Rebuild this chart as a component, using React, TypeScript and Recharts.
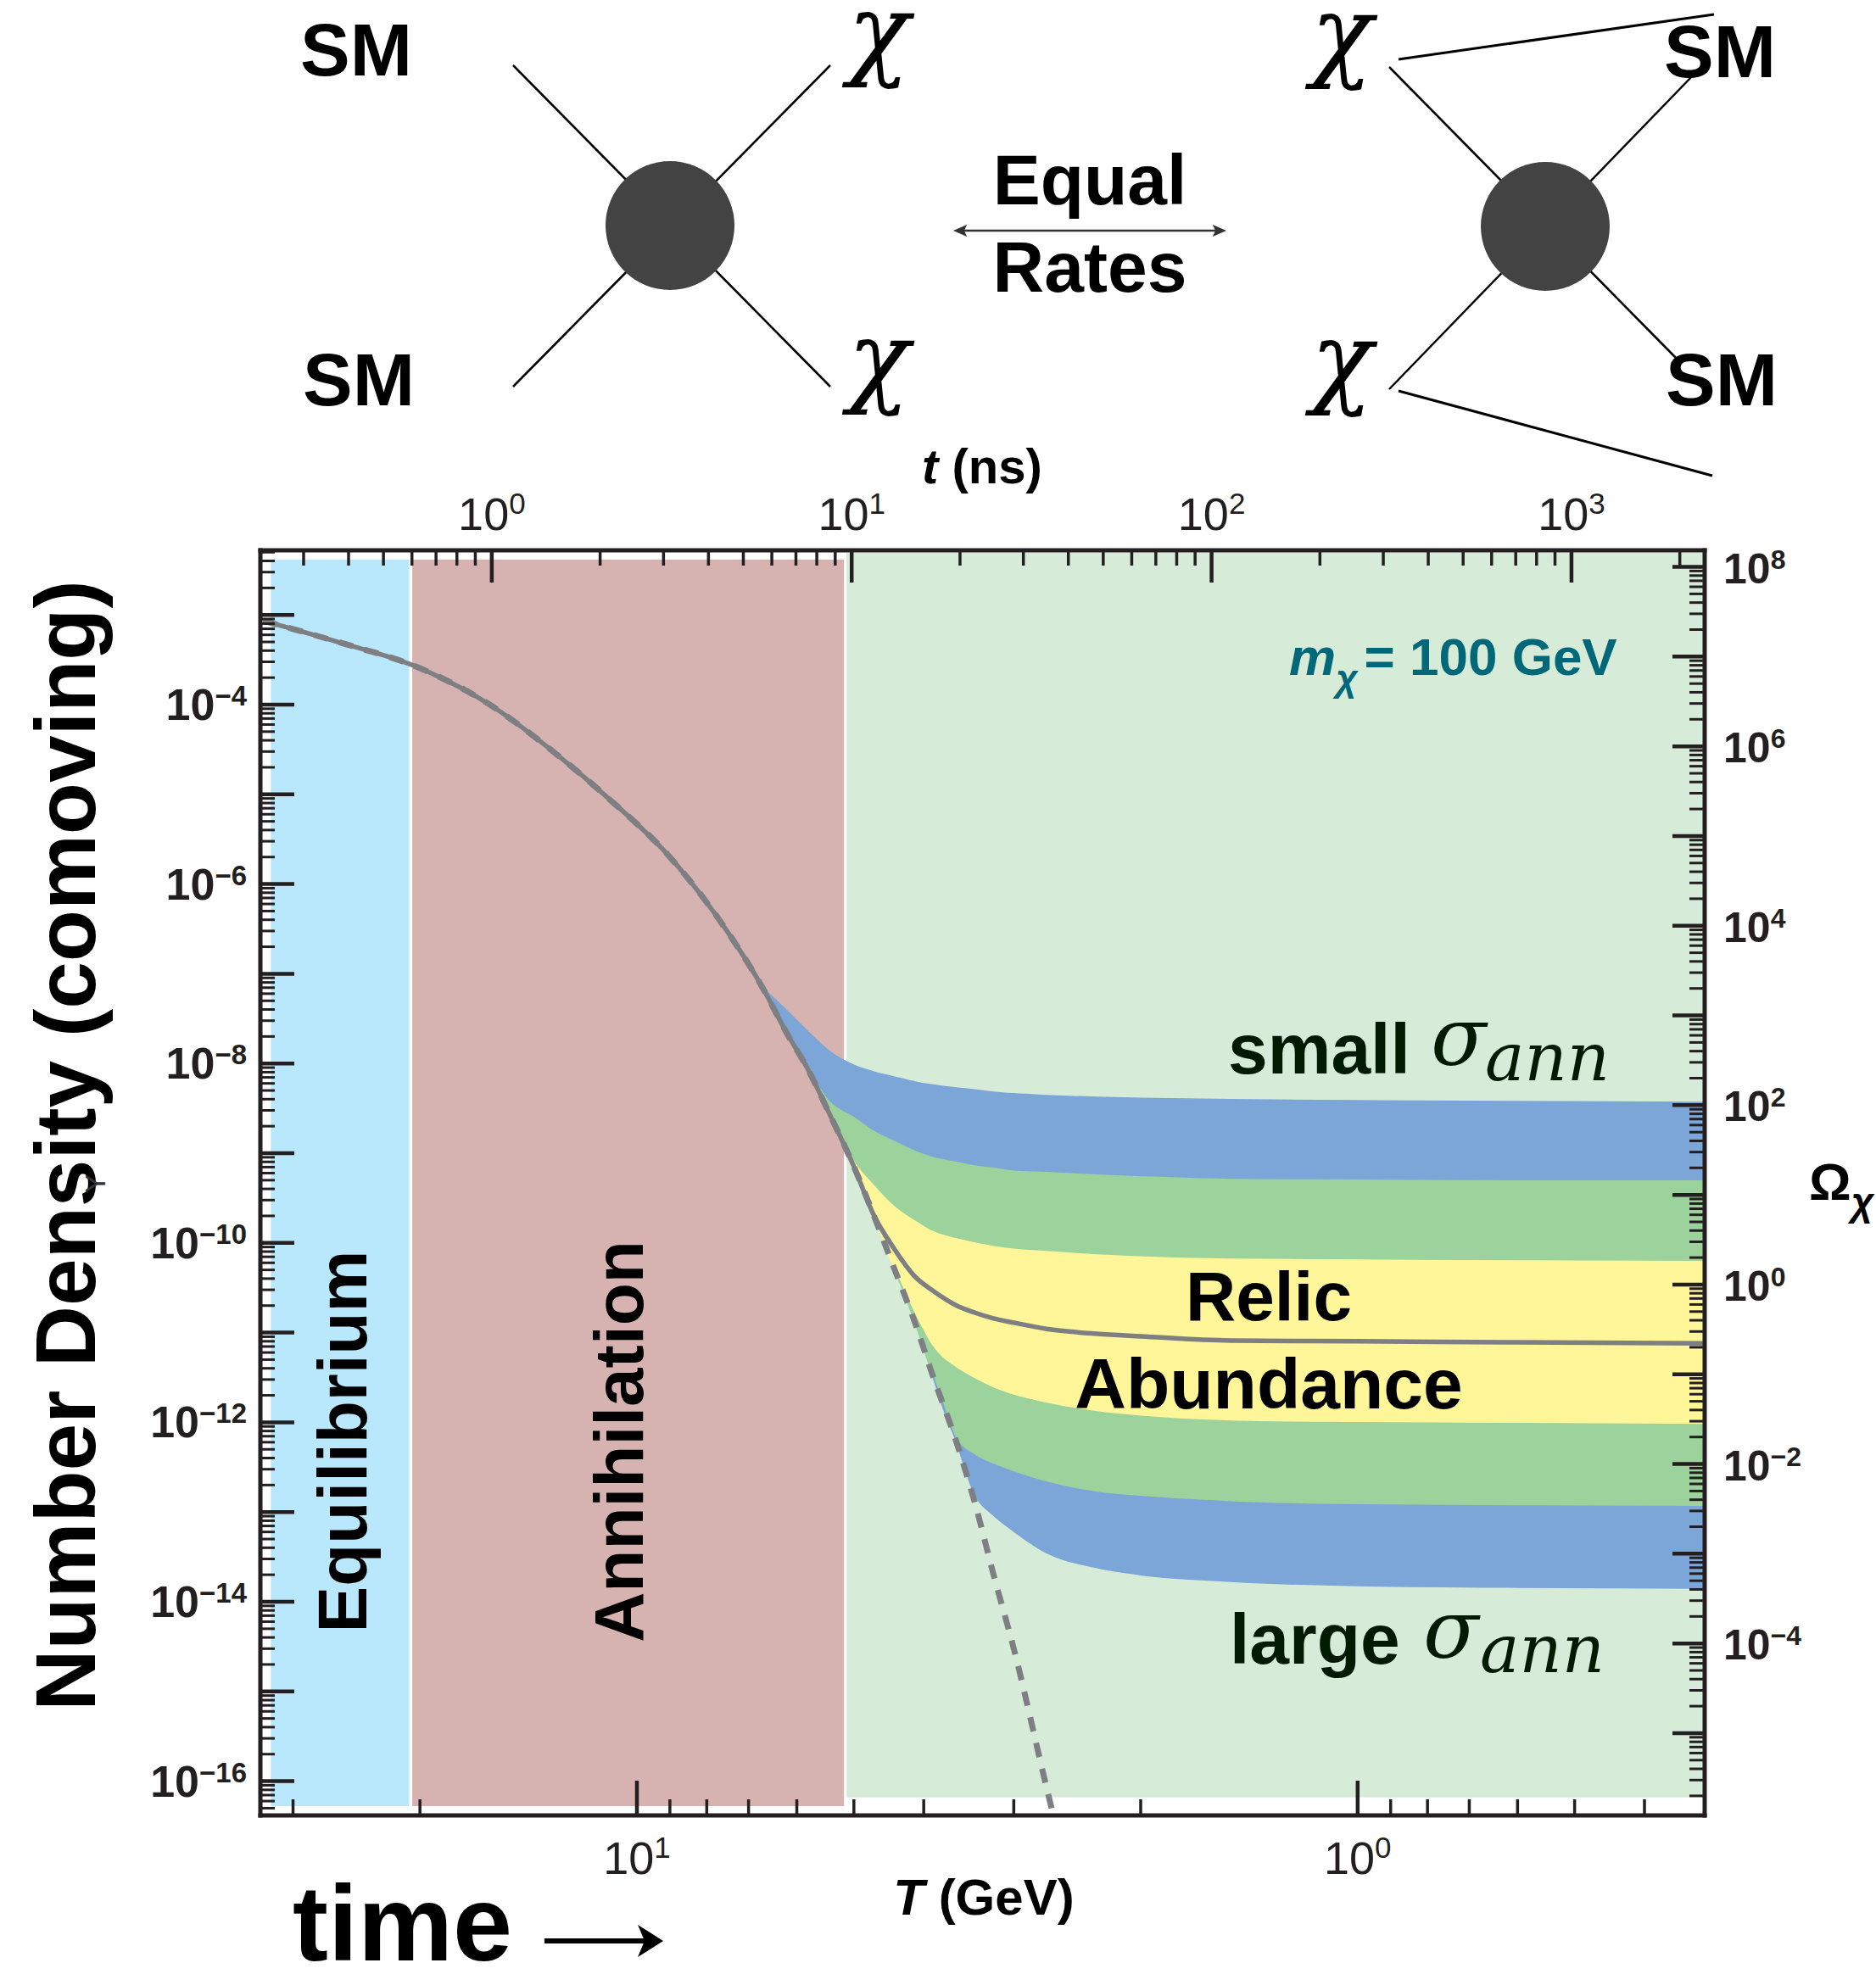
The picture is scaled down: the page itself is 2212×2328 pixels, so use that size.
import React from 'react';
import { ComposedChart, Area, Line, XAxis, YAxis, ReferenceArea } from 'recharts';

const W = 2212;
const H = 2328;

// temperature grid in GeV, hot (left) to cold (right)
const T_GEV = [33, 26, 20, 16, 13, 11, 9, 7.5, 6.7, 6.2, 5.8, 5.4, 5.0, 4.7, 4.4, 4.1, 3.9, 3.6, 3.4, 3.2, 3.0, 2.7, 2.3, 2.0, 1.5, 1.0, 0.6, 0.33];

// equilibrium comoving density (dashed curve)
const Y_EQ = [
  8.6e-4, 5.0e-4, 2.55e-4, 1.0e-4, 2.9e-5, 9.3e-6, 2.0e-6, 3.0e-7, 7.1e-8, 2.2e-8,
  8.8e-9, 2.7e-9, 7.1e-10, 2.1e-10, 5.3e-11, 1.2e-11, 3.6e-12, 5.9e-13, 1.3e-13, 2.0e-14,
  3.0e-15, 8.3e-17, 5e-19, null, null, null, null, null,
];

// band edges, top to bottom; each one sits on equilibrium until it freezes out
const Y_BLUE_HI = [...Y_EQ.slice(0, 9), 3.9e-8, 2.3e-8, 1.36e-8, 9.6e-9, 8.1e-9, 7.1e-9, 6.2e-9, 5.8e-9, 5.35e-9, 5.1e-9, 4.8e-9, 4.6e-9, 4.4e-9, 4.2e-9, 4.1e-9, 3.95e-9, 3.85e-9, 3.77e-9, 3.7e-9];
const Y_GREEN_HI = [...Y_EQ.slice(0, 11), 3.7e-9, 2.5e-9, 1.76e-9, 1.36e-9, 1.04e-9, 9.0e-10, 7.9e-10, 7.2e-10, 6.8e-10, 6.3e-10, 6.1e-10, 5.7e-10, 5.45e-10, 5.1e-10, 5.0e-10, 4.9e-10, 4.9e-10];
const Y_YELLOW_HI = [...Y_EQ.slice(0, 12), 8.0e-10, 4.4e-10, 2.55e-10, 1.72e-10, 1.35e-10, 1.11e-10, 1.0e-10, 9.1e-11, 8.5e-11, 8.0e-11, 7.35e-11, 7.0e-11, 6.6e-11, 6.45e-11, 6.3e-11, 6.2e-11];
const Y_RELIC = [...Y_EQ.slice(0, 14), 8.7e-11, 4.1e-11, 3.0e-11, 2.0e-11, 1.67e-11, 1.44e-11, 1.29e-11, 1.1e-11, 9.7e-12, 9.1e-12, 8.15e-12, 8.0e-12, 7.8e-12, 7.6e-12];
const Y_YELLOW_LO = [...Y_EQ.slice(0, 15), 1.5e-11, 7.2e-12, 4.0e-12, 3.06e-12, 2.4e-12, 2.0e-12, 1.63e-12, 1.31e-12, 1.17e-12, 1.03e-12, 9.9e-13, 9.7e-13, 9.45e-13];
const Y_GREEN_LO = [...Y_EQ.slice(0, 17), 6.4e-13, 4.3e-13, 3.4e-13, 2.8e-13, 2.15e-13, 1.66e-13, 1.49e-13, 1.3e-13, 1.2e-13, 1.17e-13, 1.15e-13];
const Y_BLUE_LO = [...Y_EQ.slice(0, 18), 1.58e-13, 9.2e-14, 6.1e-14, 3.5e-14, 2.4e-14, 2.0e-14, 1.69e-14, 1.51e-14, 1.45e-14, 1.42e-14];

// phase backgrounds: T edges (GeV) and density extent
const PHASE_NAMES = ['Equilibrium', 'Annihilation', 'Freeze-out'];
const PHASE_T = [[32.2, 20.7], [20.5, 5.16], [5.12, 0.33]];
const PHASE_Y = [[5.27e-17, 4.13e-3], [5.27e-17, 4.13e-3], [6.6e-17, 4.92e-3]];

// axis ranges
const T_DOMAIN = [0.33, 33.3];
const Y_DOMAIN = [4.15e-17, 5.25e-3];
const TIME_DOMAIN = [0.2275, 2345];
const OMEGA_DOMAIN = [1.21e-6, 1.53e8];

// labelled decades
const Y_LABELED = [-4, -6, -8, -10, -12, -14, -16];
const OMEGA_LABELED = [8, 6, 4, 2, 0, -2, -4];
const TIME_LABELED = [0, 1, 2, 3];
const T_LABELED = [1, 0];

const INK = '#231f20';
const SANS = '"Liberation Sans", Arial, Helvetica, sans-serif';
const MATH = '"DejaVu Serif", "Liberation Serif", serif';
const PHASE_FILL = ['#b9e7fb', '#d6b3b0', '#d7ecd8'];
const BLUE = '#7ca6d8';
const GREEN = '#9cd29c';
const YELLOW = '#fff69a';
const CURVE = '#7e7f83';
const TEAL = '#006878';
const DARK = '#021a02';

function logTicks([lo, hi]: number[]) {
  const out: number[] = [];
  for (let e = Math.floor(Math.log10(lo)); e <= Math.ceil(Math.log10(hi)); e++) {
    for (let k = 1; k < 10; k++) {
      const v = k * Math.pow(10, e);
      if (v >= lo && v <= hi) out.push(v);
    }
  }
  return out;
}

const band = (lo: (number | null)[], hi: (number | null)[], i: number) => {
  const flat = (j: number) => lo[j] === hi[j];
  if (flat(i) && (i + 1 >= lo.length || flat(i + 1))) return null;
  return [lo[i], hi[i]];
};

const rows = T_GEV.map((T, i) => ({
  T,
  eq: Y_EQ[i],
  relic: Y_RELIC[i],
  blueTop: band(Y_GREEN_HI, Y_BLUE_HI, i),
  greenTop: band(Y_YELLOW_HI, Y_GREEN_HI, i),
  yellow: band(Y_YELLOW_LO, Y_YELLOW_HI, i),
  greenBot: band(Y_GREEN_LO, Y_YELLOW_LO, i),
  blueBot: band(Y_BLUE_LO, Y_GREEN_LO, i),
}));

const decade = (v: number) => {
  const l = Math.log10(v);
  return Math.abs(l - Math.round(l)) < 1e-9;
};
const expo = (v: number) => Math.round(Math.log10(v));
const sup = (e: number) => (e < 0 ? '\u2212' + Math.abs(e) : String(e));

function LeftTick({ x, y, payload }: any) {
  const v = payload.value;
  const major = decade(v);
  const e = expo(v);
  return (
    <g>
      <line x1={x} x2={x + (major ? 40 : 17)} y1={y} y2={y} stroke={INK} strokeWidth={major ? 4.5 : 3} />
      {major && Y_LABELED.includes(e) && (
        <text x={x - 16} y={y + 18} textAnchor="end" fill={INK} fontFamily={SANS} fontWeight={700} fontSize={52}>
          10<tspan dy={-17} fontSize={33}>{sup(e)}</tspan>
        </text>
      )}
    </g>
  );
}

function RightTick({ x, y, payload }: any) {
  const v = payload.value;
  const major = decade(v);
  const e = expo(v);
  return (
    <g>
      <line x1={x} x2={x - (major ? 38 : 18)} y1={y} y2={y} stroke={INK} strokeWidth={major ? 4.5 : 3} />
      {major && OMEGA_LABELED.includes(e) && (
        <text x={x + 22} y={y + 19} textAnchor="start" fill={INK} fontFamily={SANS} fontWeight={700} fontSize={50}>
          10<tspan dy={-17} fontSize={32}>{sup(e)}</tspan>
        </text>
      )}
    </g>
  );
}

function TopTick({ x, y, payload }: any) {
  const v = payload.value;
  const major = decade(v);
  const e = expo(v);
  return (
    <g>
      <line x1={x} x2={x} y1={y} y2={y + (major ? 38 : 18)} stroke={INK} strokeWidth={major ? 4.5 : 3.5} />
      {major && TIME_LABELED.includes(e) && (
        <text x={x} y={y - 24} textAnchor="middle" fill={INK} fontFamily={SANS} fontSize={54}>
          10<tspan dy={-19} fontSize={35}>{sup(e)}</tspan>
        </text>
      )}
    </g>
  );
}

function BottomTick({ x, y, payload }: any) {
  const v = payload.value;
  const major = decade(v);
  const e = expo(v);
  return (
    <g>
      <line x1={x} x2={x} y1={y} y2={y - (major ? 41 : 19)} stroke={INK} strokeWidth={major ? 4.5 : 3.5} />
      {major && T_LABELED.includes(e) && (
        <text x={x} y={y + 69} textAnchor="middle" fill={INK} fontFamily={SANS} fontSize={54}>
          10<tspan dy={-19} fontSize={35}>{sup(e)}</tspan>
        </text>
      )}
    </g>
  );
}

const AXIS_LINE = { stroke: INK, strokeWidth: 5, strokeLinecap: 'square' as const };

function Overlay() {
  const bold = { fontFamily: SANS, fontWeight: 700 };
  const chi = { fontFamily: MATH, fontStyle: 'italic' as const, fontSize: 120, textAnchor: 'middle' as const };
  return (
    <svg width={W} height={H} style={{ position: 'absolute', left: 0, top: 0, pointerEvents: 'none' }}>
      {/* production vertex */}
      <line x1={605} y1={77} x2={979} y2={456} stroke="#000" strokeWidth={2.5} />
      <line x1={979} y1={77} x2={605} y2={456} stroke="#000" strokeWidth={2.5} />
      <circle cx={790} cy={266} r={76} fill="#434343" />
      <text x={420} y={89} textAnchor="middle" fontSize={88} {...bold}>SM</text>
      <text x={423} y={478} textAnchor="middle" fontSize={88} {...bold}>SM</text>
      <text x={1036} y={78} {...chi}>χ</text>
      <text x={1036} y={464} {...chi}>χ</text>

      <text x={1285} y={241} textAnchor="middle" fontSize={84} {...bold}>Equal</text>
      <text x={1285} y={344} textAnchor="middle" fontSize={84} {...bold}>Rates</text>
      <line x1={1132} y1={272} x2={1438} y2={272} stroke="#333" strokeWidth={2.5} />
      <polygon points="1124,272 1140,265 1137,272 1140,279" fill="#333" />
      <polygon points="1446,272 1430,265 1433,272 1430,279" fill="#333" />

      {/* annihilation vertex */}
      <line x1={1638} y1={79} x2={1976} y2={422} stroke="#000" strokeWidth={2.5} />
      <line x1={1638} y1={459} x2={1997} y2={88} stroke="#000" strokeWidth={2.5} />
      <circle cx={1822} cy={267} r={76} fill="#434343" />
      <text x={1582} y={80} {...chi}>χ</text>
      <text x={1582} y={465} {...chi}>χ</text>
      <text x={2028} y={91} textAnchor="middle" fontSize={88} {...bold}>SM</text>
      <text x={2030} y={478} textAnchor="middle" fontSize={88} {...bold}>SM</text>
      <line x1={1649} y1={70} x2={2021} y2={17} stroke="#000" strokeWidth={3} />
      <line x1={1649} y1={461} x2={2019} y2={561} stroke="#000" strokeWidth={3} />

      {/* axis titles */}
      <text x={1158} y={570} textAnchor="middle" fontSize={58} {...bold}>
        <tspan fontStyle="italic">t</tspan> (ns)
      </text>
      <text x={1160} y={2258} textAnchor="middle" fontSize={60} {...bold}>
        <tspan fontStyle="italic">T</tspan> (GeV)
      </text>
      <text x={2133} y={1415} fontSize={62} {...bold}>
        Ω<tspan fontStyle="italic" fontSize={46} dy={18}>χ</tspan>
      </text>
      <text x={112} y={1351} transform="rotate(-90 112 1351)" textAnchor="middle" fontSize={100} {...bold}>
        Number Density (comoving)
      </text>
      <text x={124} y={1396} transform="rotate(-90 124 1396)" textAnchor="middle" fontSize={34} fill="#333" fontFamily={SANS}>Y</text>
      <text x={345} y={2312} fontSize={126} {...bold}>time</text>
      <line x1={642} y1={2289} x2={760} y2={2289} stroke="#000" strokeWidth={6} />
      <polygon points="752,2270 782,2289 752,2308 760,2289" fill="#000" />

      {/* plot annotations */}
      <text x={432} y={1700} transform="rotate(-90 432 1700)" textAnchor="middle" fontSize={82} {...bold}>Equilibrium</text>
      <text x={758} y={1700} transform="rotate(-90 758 1700)" textAnchor="middle" fontSize={82} {...bold}>Annihilation</text>
      <text x={1520} y={796} fontSize={62} fill={TEAL} {...bold}>
        <tspan fontStyle="italic">m</tspan>
        <tspan fontStyle="italic" fontSize={44} dy={19}>χ</tspan>
        <tspan dy={-19} dx={8}>= 100 GeV</tspan>
      </text>
      <text x={1448} y={1266} fontSize={84} fill={DARK} {...bold}>small</text>
      <text x={1687} y={1256} fontSize={96} fill={DARK} fontFamily={MATH} fontStyle="italic">σ</text>
      <text x={1751} y={1274} fontSize={78} fill={DARK} fontFamily={MATH} fontStyle="italic">ann</text>
      <text x={1496} y={1557} textAnchor="middle" fontSize={82} {...bold}>Relic</text>
      <text x={1496} y={1661} textAnchor="middle" fontSize={84} {...bold}>Abundance</text>
      <text x={1450} y={1962} fontSize={84} fill={DARK} {...bold}>large</text>
      <text x={1678} y={1955} fontSize={96} fill={DARK} fontFamily={MATH} fontStyle="italic">σ</text>
      <text x={1745} y={1972} fontSize={78} fill={DARK} fontFamily={MATH} fontStyle="italic">ann</text>
    </svg>
  );
}

export default function App() {
  return (
    <div style={{ position: 'absolute', left: 0, top: 0, width: W, height: H, background: '#fff', overflow: 'hidden' }}>
      <ComposedChart width={W} height={H} data={rows} margin={{ top: 549, right: 102, bottom: 87, left: 7 }}>
        <XAxis
          xAxisId="T" dataKey="T" type="number" scale="log" domain={T_DOMAIN} reversed allowDataOverflow
          ticks={logTicks(T_DOMAIN)} interval={0} tickSize={0} tickMargin={0} tickLine={false}
          tick={BottomTick} axisLine={AXIS_LINE} height={100} orientation="bottom"
        />
        <XAxis
          xAxisId="t" dataKey="T" type="number" scale="log" domain={TIME_DOMAIN} allowDataOverflow
          ticks={logTicks(TIME_DOMAIN)} interval={0} tickSize={0} tickMargin={0} tickLine={false}
          tick={TopTick} axisLine={AXIS_LINE} height={100} orientation="top"
        />
        <YAxis
          yAxisId="Y" type="number" scale="log" domain={Y_DOMAIN} allowDataOverflow
          ticks={logTicks(Y_DOMAIN)} interval={0} tickSize={0} tickMargin={0} tickLine={false}
          tick={LeftTick} axisLine={AXIS_LINE} width={300} orientation="left"
        />
        <YAxis
          yAxisId="O" type="number" scale="log" domain={OMEGA_DOMAIN} allowDataOverflow
          ticks={logTicks(OMEGA_DOMAIN)} interval={0} tickSize={0} tickMargin={0} tickLine={false}
          tick={RightTick} axisLine={AXIS_LINE} width={100} orientation="right"
        />

        {PHASE_NAMES.map((name, i) => (
          <ReferenceArea
            key={name} xAxisId="T" yAxisId="Y" zIndex={50}
            x1={PHASE_T[i][0]} x2={PHASE_T[i][1]} y1={PHASE_Y[i][0]} y2={PHASE_Y[i][1]}
            fill={PHASE_FILL[i]} fillOpacity={1} stroke="none" ifOverflow="hidden"
          />
        ))}

        <Area xAxisId="T" yAxisId="Y" dataKey="blueTop" type="monotone" fill={BLUE} fillOpacity={1} stroke={BLUE} strokeWidth={1.5} isAnimationActive={false} />
        <Area xAxisId="T" yAxisId="Y" dataKey="greenTop" type="monotone" fill={GREEN} fillOpacity={1} stroke={GREEN} strokeWidth={1.5} isAnimationActive={false} />
        <Area xAxisId="T" yAxisId="Y" dataKey="yellow" type="monotone" fill={YELLOW} fillOpacity={1} stroke={YELLOW} strokeWidth={1.5} isAnimationActive={false} />
        <Area xAxisId="T" yAxisId="Y" dataKey="greenBot" type="monotone" fill={GREEN} fillOpacity={1} stroke={GREEN} strokeWidth={1.5} isAnimationActive={false} />
        <Area xAxisId="T" yAxisId="Y" dataKey="blueBot" type="monotone" fill={BLUE} fillOpacity={1} stroke={BLUE} strokeWidth={1.5} isAnimationActive={false} />

        <Line xAxisId="T" yAxisId="Y" dataKey="eq" type="monotone" stroke={CURVE} strokeWidth={7} strokeDasharray="17 14" dot={false} isAnimationActive={false} />
        <Line xAxisId="T" yAxisId="Y" dataKey="relic" type="monotone" stroke={CURVE} strokeWidth={5.5} dot={false} isAnimationActive={false} />
      </ComposedChart>
      <Overlay />
    </div>
  );
}
